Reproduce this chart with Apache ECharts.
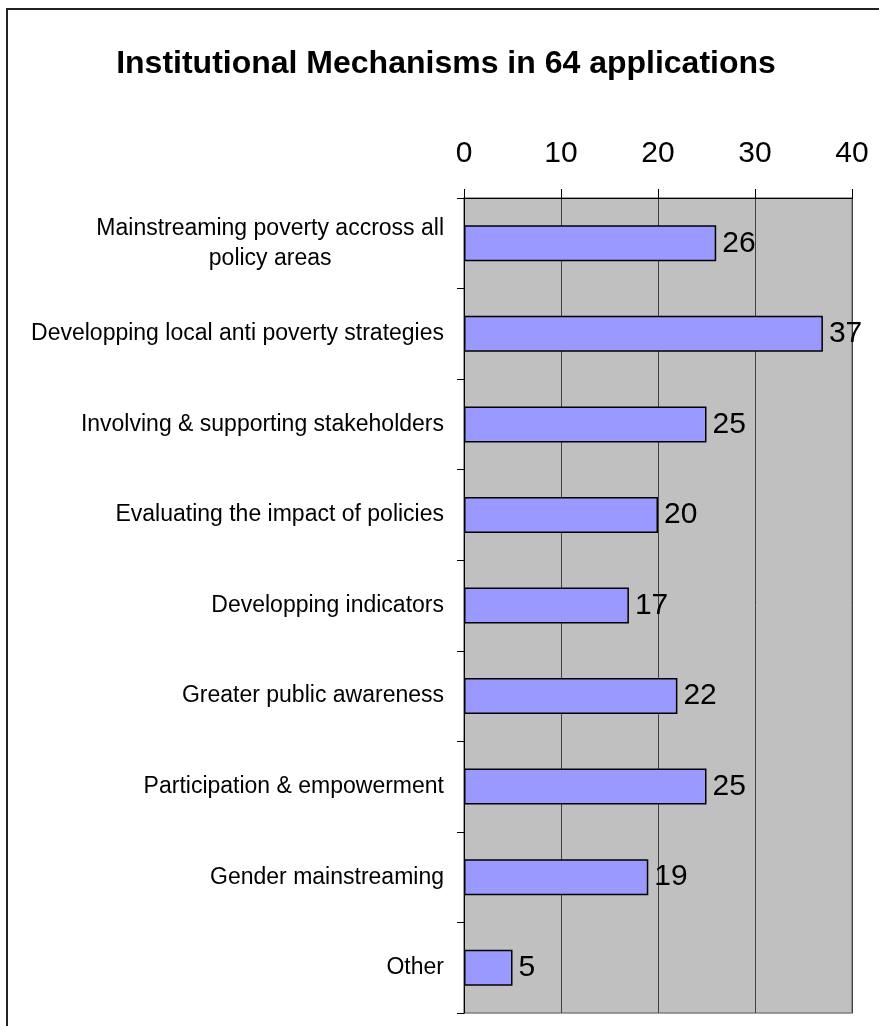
<!DOCTYPE html>
<html>
<head>
<meta charset="utf-8">
<script src="https://cdn.jsdelivr.net/npm/echarts@6/dist/echarts.min.js"></script>
<style>
html,body{margin:0;padding:0;background:#fff;}
#chart{width:879px;height:1026px;}
</style>
</head>
<body>
<div id="chart"></div>
<script>
const title = 'Institutional Mechanisms in 64 applications';
const categories = [
  'Mainstreaming poverty accross all\npolicy areas',
  'Developping local anti poverty strategies',
  'Involving & supporting stakeholders',
  'Evaluating the impact of policies',
  'Developping indicators',
  'Greater public awareness',
  'Participation & empowerment',
  'Gender mainstreaming',
  'Other'
];
const values = [26, 37, 25, 20, 17, 22, 25, 19, 5];
const xTicks = [0, 10, 20, 30, 40];

const FONT = 'Liberation Sans, Arial, sans-serif';
const chart = echarts.init(document.getElementById('chart'));
chart.setOption({
  backgroundColor: '#ffffff',
  animation: false,
  graphic: [{
    type: 'rect',
    shape: {x: 7, y: 9, width: 1000, height: 1100},
    style: {fill: 'none', stroke: '#222', lineWidth: 2},
    silent: true, z: -10
  }],
  title: {
    text: title,
    left: 441, top: 43, textAlign: 'center',
    textStyle: {fontFamily: FONT, fontWeight: 'bold', fontSize: 32, color: '#000'}
  },
  grid: {
    left: 464, right: 27, top: 198, bottom: 13,
    show: true, backgroundColor: '#C0C0C0', borderColor: '#808080', borderWidth: 1.5
  },
  xAxis: {
    type: 'value', position: 'top', min: xTicks[0], max: xTicks[xTicks.length - 1], interval: 10,
    axisLine: {show: true, lineStyle: {color: '#000', width: 1}},
    axisTick: {show: true, length: 9, lineStyle: {color: '#000'}},
    splitLine: {show: true, lineStyle: {color: '#404040', width: 1}},
    axisLabel: {fontFamily: FONT, fontSize: 30, color: '#000', margin: 29}
  },
  yAxis: {
    type: 'category', inverse: true, data: categories,
    axisLine: {show: true, lineStyle: {color: '#000', width: 1}},
    axisTick: {show: true, length: 7, lineStyle: {color: '#000'}},
    axisLabel: {
      fontFamily: FONT, fontSize: 23, color: '#000', margin: 20, align: 'right',
      formatter: function (v) {
        const parts = v.split('\n');
        if (parts.length === 1) return v;
        return parts.map(p => '{c|' + p + '}').join('\n');
      },
      rich: {c: {align: 'center', fontFamily: FONT, fontSize: 23, color: '#000', lineHeight: 30}}
    }
  },
  series: [{
    type: 'bar', data: values, barWidth: 36,
    itemStyle: {color: '#9999FF', borderColor: '#000', borderWidth: 1.5},
    label: {show: true, position: 'right', distance: 6, fontFamily: FONT, fontSize: 30, color: '#000'}
  }]
});
</script>
</body>
</html>
